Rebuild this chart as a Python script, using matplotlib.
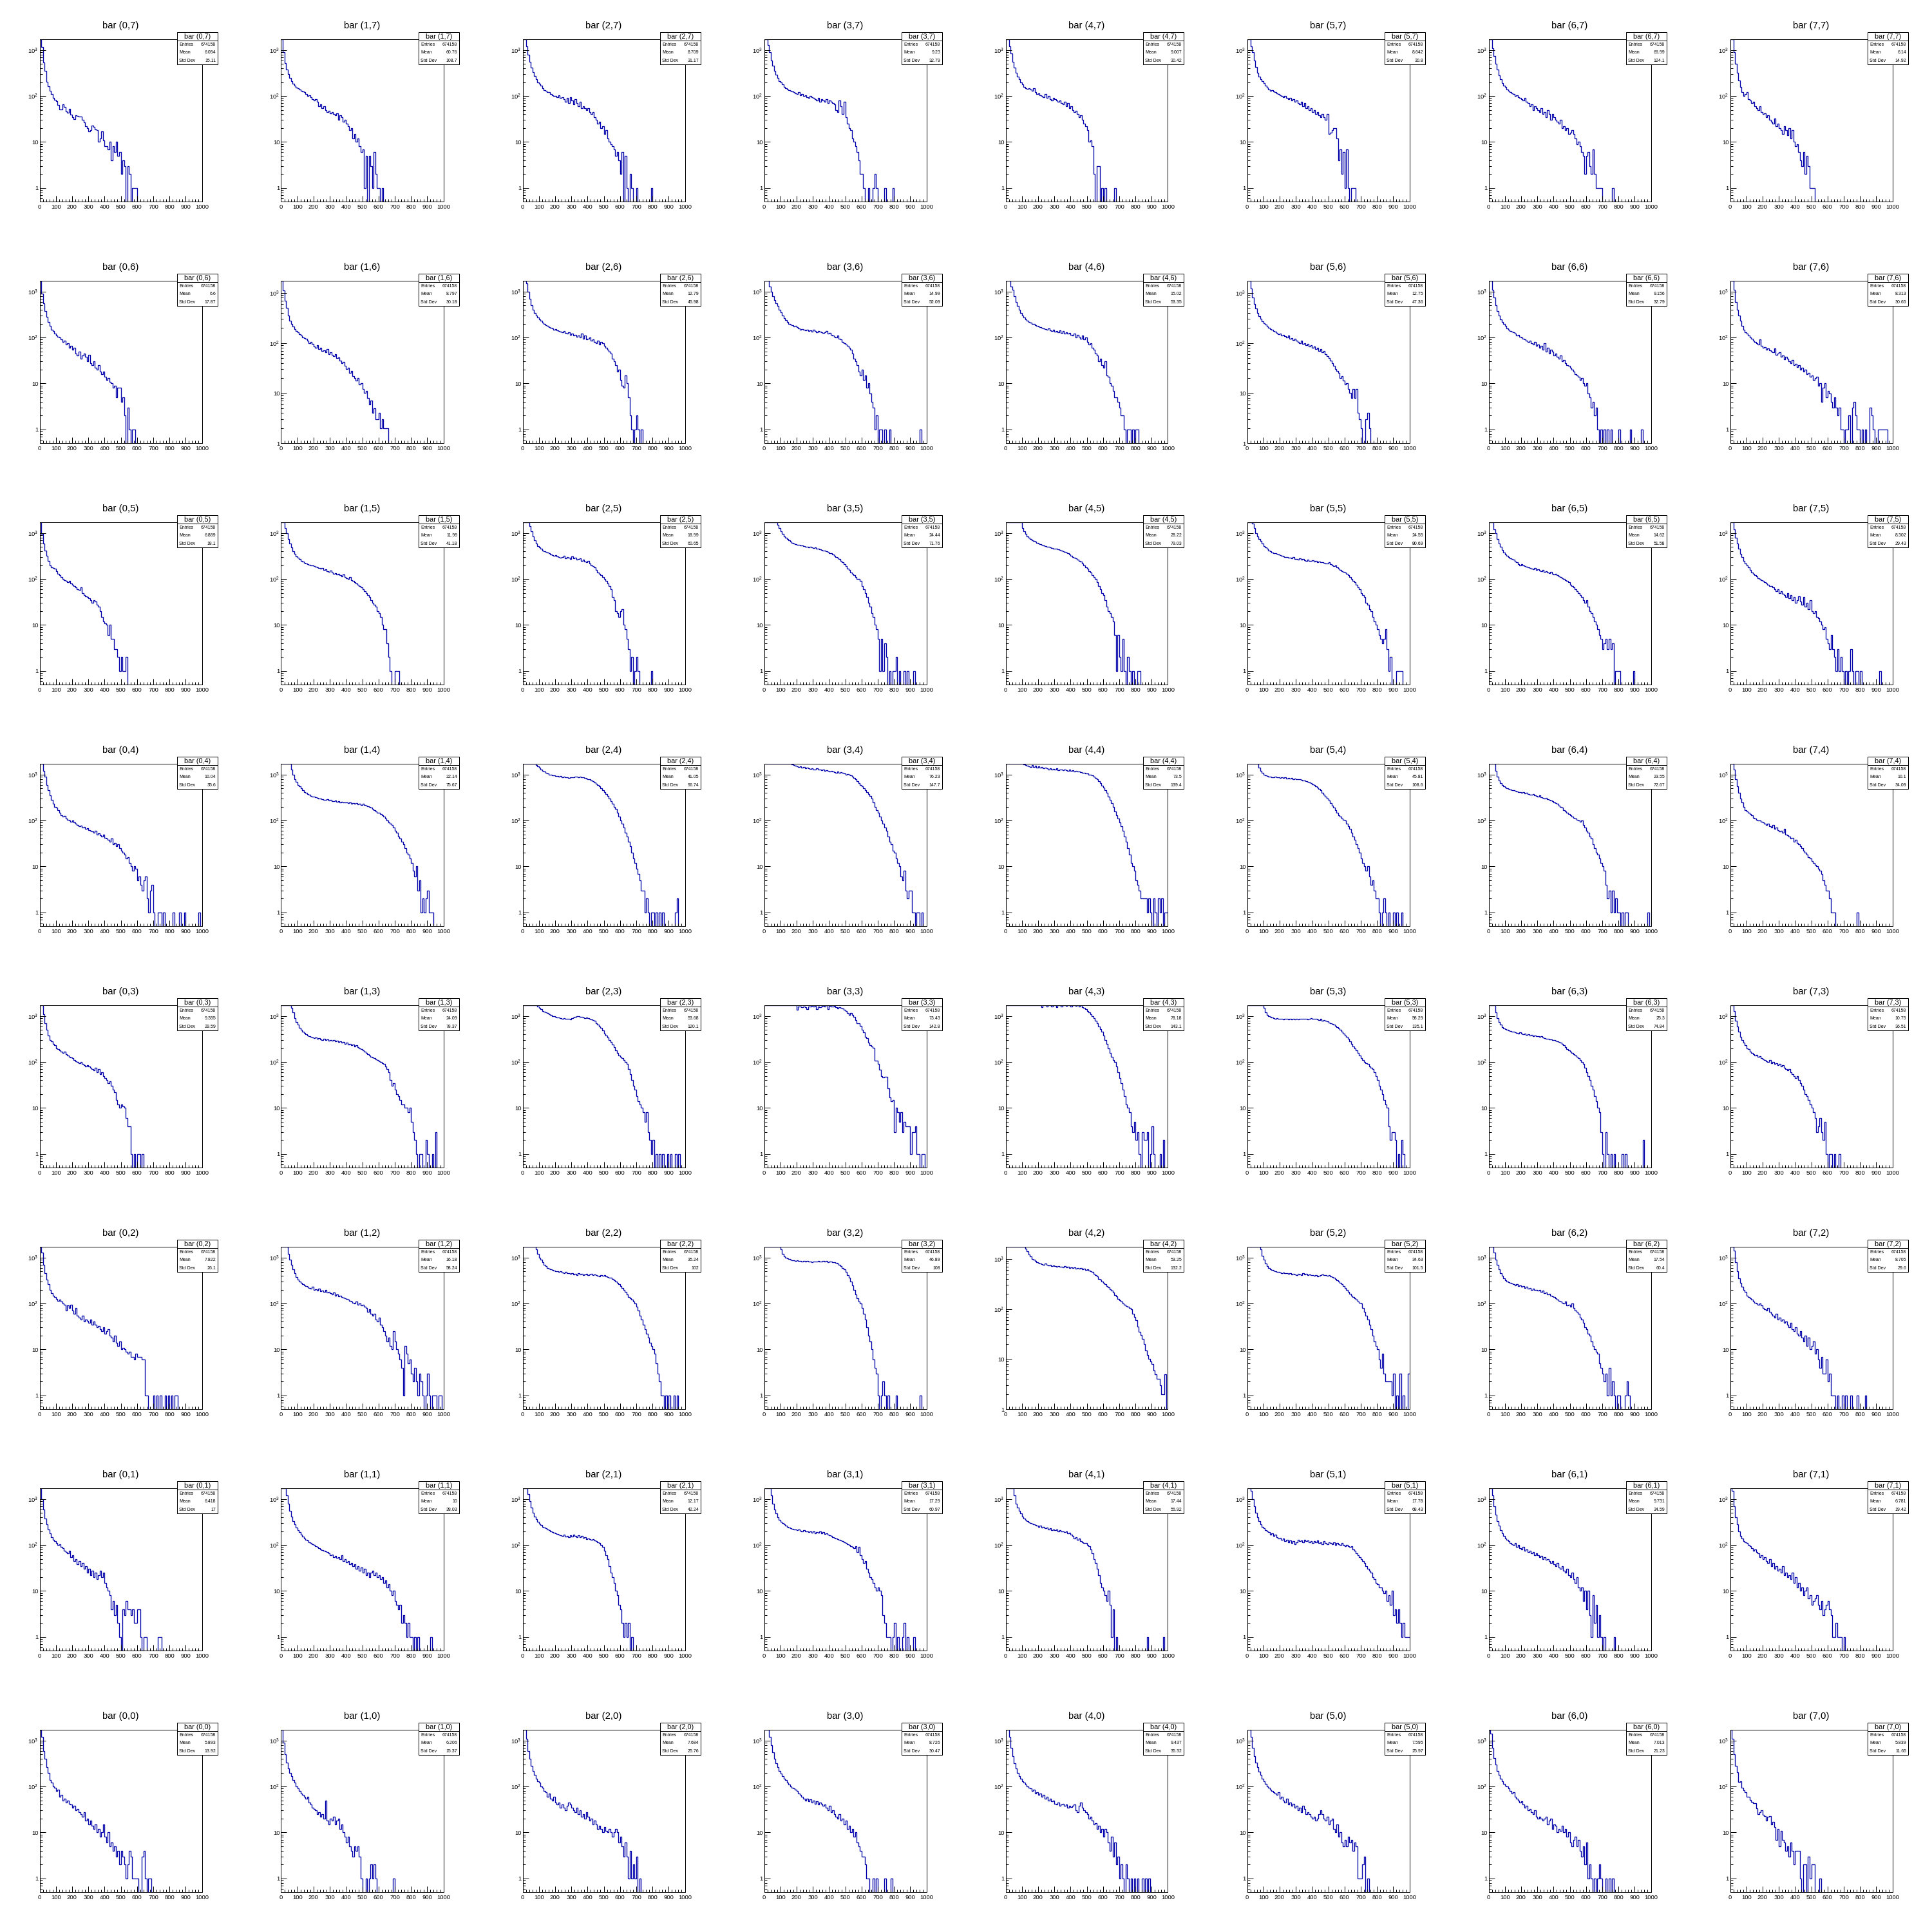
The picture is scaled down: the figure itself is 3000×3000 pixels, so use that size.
import numpy as np
import matplotlib
matplotlib.use("Agg")
import matplotlib.pyplot as plt
from matplotlib.patches import Rectangle
from matplotlib.lines import Line2D
from matplotlib.ticker import FixedLocator, FixedFormatter, NullFormatter

plt.rcParams['font.family'] = ['Liberation Sans', 'DejaVu Sans']
plt.rcParams['mathtext.fontset'] = 'custom'
plt.rcParams['mathtext.rm'] = 'Liberation Sans'
plt.rcParams['mathtext.it'] = 'Liberation Sans:italic'
plt.rcParams['mathtext.bf'] = 'Liberation Sans:bold'

# ---- bin contents (10-unit bins from 0 to 1000) ----
# row j = 7 (top)
h_0_7 = [9000, 1160, 530, 350, 205, 165, 130, 112, 92, 82, 78, 63, 51, 51, 67, 58, 46, 44, 52, 39, 35, 31, 38, 37, 36, 36, 30, 27, 22, 20, 17, 18, 23, 21, 19, 18, 10, 12, 17, 11, 8, 8, 7, 10, 4, 8, 6, 10, 5, 6, 2, 4, 3, 0, 3, 2, 0, 1, 1, 1]
h_1_7 = [5000, 900, 520, 380, 300, 250, 210, 185, 170, 155, 150, 140, 130, 125, 120, 110, 100, 105, 95, 85, 80, 85, 75, 60, 65, 55, 60, 50, 45, 48, 42, 45, 40, 38, 42, 30, 38, 35, 28, 30, 25, 22, 18, 20, 12, 15, 10, 12, 8, 6, 7, 1, 5, 0, 5, 3, 1, 6, 2, 1, 1, 0, 1]
h_2_7 = [5000, 2500, 1200, 800, 550, 420, 330, 270, 230, 200, 185, 170, 150, 135, 130, 120, 120, 110, 105, 100, 100, 95, 105, 90, 95, 85, 75, 90, 70, 95, 80, 65, 85, 70, 60, 75, 55, 60, 55, 50, 55, 45, 40, 45, 35, 30, 25, 28, 20, 22, 15, 18, 12, 10, 9, 8, 7, 5, 6, 4, 2, 6, 0, 5, 1, 0, 2, 1, 0, 0, 1, 0, 0, 0, 0, 0, 0, 0, 0, 1]
h_3_7 = [5000, 3000, 1300, 900, 600, 450, 350, 290, 250, 210, 200, 180, 160, 150, 140, 135, 130, 125, 120, 115, 110, 120, 105, 110, 100, 105, 95, 90, 100, 95, 90, 85, 80, 90, 75, 85, 80, 75, 85, 70, 80, 75, 70, 65, 50, 45, 80, 60, 40, 75, 35, 25, 20, 18, 12, 10, 8, 6, 4, 2, 2, 1, 0, 0, 1, 0, 0, 1, 2, 1, 0, 0, 0, 0, 1, 0, 0, 0, 0, 1]
h_4_7 = [5000, 2500, 1200, 850, 550, 420, 320, 260, 230, 200, 180, 160, 150, 145, 150, 140, 130, 150, 120, 110, 115, 105, 100, 95, 110, 90, 100, 85, 80, 90, 85, 80, 75, 80, 70, 65, 75, 60, 70, 55, 60, 50, 45, 48, 40, 35, 38, 30, 25, 22, 18, 10, 11, 8, 2, 0, 3, 3, 0, 1, 0, 1, 0, 0, 0, 0, 0, 1]
h_5_7 = [5000, 2800, 1200, 900, 600, 430, 320, 260, 230, 210, 190, 170, 155, 140, 130, 135, 125, 120, 115, 110, 105, 100, 95, 100, 90, 85, 90, 80, 85, 75, 80, 70, 65, 75, 60, 70, 55, 60, 50, 55, 45, 50, 40, 45, 38, 35, 40, 35, 30, 40, 15, 16, 18, 20, 20, 12, 4, 7, 2, 6, 1, 7, 1, 0, 1, 1, 1]
h_6_7 = [5000, 2500, 1100, 750, 500, 380, 280, 230, 190, 170, 160, 140, 130, 120, 115, 110, 100, 105, 95, 90, 85, 80, 90, 75, 70, 60, 65, 50, 60, 55, 50, 45, 55, 40, 45, 35, 50, 40, 30, 40, 35, 30, 28, 25, 30, 20, 22, 18, 20, 15, 16, 18, 15, 12, 9, 10, 8, 6, 5, 2, 5, 6, 3, 2, 7, 2, 1, 1, 1, 1, 0, 0, 0, 0, 0, 0, 1]
h_7_7 = [5000, 2000, 900, 500, 320, 220, 160, 120, 100, 110, 120, 85, 80, 70, 75, 60, 55, 50, 60, 45, 40, 42, 35, 38, 30, 28, 25, 32, 22, 25, 20, 18, 15, 22, 18, 14, 20, 12, 18, 10, 8, 9, 6, 4, 3, 6, 2, 5, 3, 1, 1, 1]

# row j = 6
h_0_6 = [5000, 900, 550, 380, 280, 220, 180, 150, 140, 120, 110, 105, 100, 90, 80, 85, 70, 75, 60, 65, 55, 60, 45, 40, 50, 35, 40, 45, 38, 30, 42, 28, 25, 30, 22, 20, 25, 18, 16, 18, 14, 12, 13, 11, 10, 8, 9, 5, 8, 8, 4, 5, 2, 0, 3, 1, 0, 1, 1]
h_1_6 = [5000, 1100, 700, 500, 350, 280, 240, 210, 190, 175, 165, 150, 140, 130, 125, 120, 110, 100, 105, 95, 85, 80, 90, 75, 80, 70, 72, 65, 75, 60, 65, 58, 55, 60, 50, 52, 45, 40, 42, 35, 30, 32, 25, 28, 22, 20, 18, 20, 15, 16, 12, 10, 11, 8, 6, 7, 4, 5, 3, 3, 4, 2, 3, 2, 2, 2]
h_2_6 = [5000, 2500, 1500, 1000, 700, 500, 400, 340, 300, 270, 250, 230, 210, 200, 185, 180, 170, 165, 160, 150, 155, 145, 140, 135, 130, 140, 125, 120, 130, 115, 120, 110, 115, 105, 110, 100, 120, 95, 110, 90, 95, 100, 85, 90, 80, 75, 85, 70, 80, 75, 65, 60, 55, 50, 45, 35, 30, 25, 18, 20, 12, 9, 8, 15, 10, 5, 2, 1, 0, 1, 2, 1, 0, 1]
h_3_6 = [5000, 3000, 2000, 1300, 1000, 800, 650, 560, 480, 400, 350, 300, 260, 240, 220, 200, 190, 185, 175, 180, 170, 160, 150, 155, 150, 145, 150, 140, 145, 135, 150, 140, 130, 140, 135, 130, 125, 130, 140, 120, 125, 115, 110, 105, 100, 110, 95, 90, 80, 75, 70, 65, 60, 55, 45, 35, 30, 25, 18, 15, 20, 12, 15, 8, 10, 6, 4, 3, 1, 2, 0, 1, 1, 0, 1, 0, 0, 1, 0, 0, 0, 0, 0, 0, 0, 0, 0, 0, 0, 0, 0, 0, 0, 0, 0, 0, 1]
h_4_6 = [5000, 3000, 1800, 1300, 1100, 800, 600, 480, 400, 340, 300, 270, 250, 230, 220, 210, 200, 195, 185, 180, 175, 170, 165, 160, 155, 150, 160, 145, 140, 150, 135, 140, 130, 145, 125, 140, 120, 130, 120, 125, 115, 110, 120, 100, 115, 105, 95, 110, 90, 100, 80, 70, 75, 60, 55, 45, 40, 30, 35, 25, 22, 30, 15, 14, 10, 9, 7, 5, 5, 4, 3, 2, 2, 1, 0, 1, 1, 0, 1, 0, 1, 1]
h_5_6 = [5000, 2800, 1200, 800, 600, 480, 400, 340, 300, 270, 250, 230, 210, 200, 190, 185, 175, 170, 160, 150, 155, 140, 145, 135, 130, 140, 120, 125, 115, 120, 110, 105, 100, 110, 95, 100, 90, 95, 85, 90, 80, 85, 75, 80, 70, 75, 65, 70, 60, 55, 50, 45, 40, 35, 30, 28, 25, 20, 22, 18, 15, 16, 12, 10, 8, 12, 8, 12, 4, 3, 2, 1, 1, 3, 4, 2, 1, 1, 1, 1]
h_6_6 = [5000, 2500, 1100, 750, 500, 380, 300, 250, 220, 200, 180, 160, 150, 140, 135, 130, 120, 110, 115, 105, 100, 95, 90, 85, 80, 85, 75, 70, 80, 65, 70, 60, 65, 55, 75, 50, 60, 45, 55, 50, 40, 45, 38, 35, 40, 30, 32, 28, 25, 24, 22, 20, 18, 16, 15, 14, 12, 13, 10, 9, 10, 6, 5, 3, 4, 2, 3, 1, 0, 1, 0, 1, 0, 1, 0, 1, 0, 0, 0, 0, 1, 0, 0, 0, 0, 0, 0, 1, 0, 0, 0, 0, 0, 0, 1]
h_7_6 = [5000, 2800, 1100, 600, 400, 300, 230, 180, 150, 130, 120, 110, 100, 95, 85, 80, 75, 70, 90, 65, 60, 62, 55, 58, 52, 50, 48, 58, 42, 45, 48, 38, 40, 34, 38, 35, 30, 28, 32, 25, 27, 23, 25, 20, 22, 18, 20, 16, 17, 14, 15, 12, 13, 14, 9, 10, 4, 8, 10, 5, 7, 6, 4, 3, 5, 3, 2, 3, 1, 1, 0, 1, 1, 2, 0, 3, 4, 2, 1, 1, 0, 1, 0, 1, 0, 0, 3, 2, 1, 0, 0, 1, 1, 1, 1, 1, 1]

# row j = 5
h_0_5 = [5000, 950, 600, 420, 320, 250, 200, 180, 175, 170, 150, 130, 120, 110, 100, 95, 90, 85, 90, 80, 75, 70, 65, 60, 58, 65, 50, 45, 42, 40, 38, 35, 30, 35, 32, 28, 25, 20, 15, 12, 11, 10, 6, 10, 5, 5, 3, 3, 2, 1, 2, 1, 1, 2]
h_1_5 = [5000, 2500, 1300, 1000, 750, 600, 480, 400, 350, 310, 290, 270, 250, 240, 225, 215, 210, 205, 200, 195, 190, 185, 180, 175, 170, 175, 160, 165, 150, 145, 155, 140, 130, 135, 125, 130, 120, 115, 125, 110, 105, 100, 110, 95, 90, 85, 80, 75, 70, 65, 60, 55, 50, 45, 40, 35, 30, 28, 25, 20, 18, 15, 10, 8, 8, 4, 2, 1, 0, 0, 1, 1, 1]
h_2_5 = [5000, 4000, 3000, 2200, 1400, 1100, 850, 700, 600, 520, 480, 450, 420, 400, 390, 380, 360, 340, 330, 320, 330, 310, 300, 290, 300, 320, 280, 300, 290, 270, 310, 280, 290, 260, 270, 280, 250, 260, 240, 230, 250, 220, 200, 190, 180, 160, 140, 130, 120, 110, 100, 90, 80, 70, 60, 40, 35, 20, 18, 15, 20, 22, 10, 8, 5, 3, 1, 2, 0, 1, 2, 1, 0, 0, 0, 0, 0, 0, 0, 1]
h_3_5 = [5000, 5000, 5000, 5000, 5000, 5000, 5000, 5000, 1500, 1300, 1100, 950, 850, 800, 750, 700, 650, 620, 600, 580, 560, 550, 540, 530, 520, 510, 500, 490, 500, 480, 470, 480, 460, 450, 440, 430, 420, 410, 400, 390, 370, 360, 340, 320, 300, 290, 270, 250, 230, 210, 190, 170, 160, 140, 130, 120, 110, 100, 100, 90, 70, 60, 50, 40, 30, 25, 18, 15, 10, 8, 5, 1, 5, 1, 4, 2, 0, 1, 0, 1, 1, 2, 0, 1, 0, 0, 1, 0, 1, 0, 0, 0, 1]
h_4_5 = [5000, 5000, 5000, 5000, 5000, 5000, 5000, 4000, 3000, 2000, 1300, 1100, 950, 850, 800, 750, 700, 680, 650, 620, 600, 570, 550, 540, 520, 500, 500, 490, 470, 460, 450, 460, 440, 430, 420, 400, 390, 380, 360, 340, 320, 300, 290, 280, 260, 250, 240, 220, 200, 180, 170, 150, 140, 120, 110, 100, 85, 70, 60, 50, 45, 35, 25, 20, 18, 15, 12, 6, 1, 6, 2, 1, 5, 1, 0, 2, 1, 0, 1, 0, 0, 1, 1]
h_5_5 = [5000, 3500, 2000, 1600, 1300, 1000, 850, 750, 680, 600, 520, 480, 450, 420, 400, 380, 370, 360, 350, 340, 330, 320, 310, 300, 300, 295, 290, 280, 300, 275, 270, 265, 280, 260, 270, 255, 250, 260, 245, 250, 255, 240, 250, 235, 240, 230, 235, 225, 220, 215, 230, 210, 200, 190, 200, 180, 170, 160, 150, 145, 140, 130, 120, 110, 100, 90, 85, 75, 65, 60, 50, 45, 40, 30, 28, 22, 20, 15, 12, 10, 8, 6, 5, 4, 5, 8, 3, 1, 2, 0, 0, 0, 1, 1, 1, 1]
h_6_5 = [5000, 3000, 1800, 1200, 1000, 750, 600, 500, 430, 380, 340, 320, 300, 280, 270, 260, 240, 230, 210, 200, 210, 195, 190, 185, 180, 175, 170, 165, 175, 160, 165, 155, 150, 160, 145, 150, 140, 135, 145, 130, 125, 130, 120, 115, 110, 105, 100, 95, 90, 85, 75, 70, 65, 60, 55, 50, 45, 40, 35, 30, 35, 25, 20, 18, 15, 12, 10, 8, 6, 5, 3, 4, 5, 3, 5, 3, 4, 0, 1, 1, 1, 0, 0, 0, 0, 0, 0, 0, 0, 1]
h_7_5 = [5000, 2500, 1200, 800, 600, 450, 350, 300, 250, 220, 200, 180, 160, 140, 130, 120, 115, 105, 100, 95, 90, 85, 80, 75, 70, 70, 65, 60, 55, 60, 50, 55, 48, 45, 40, 50, 38, 45, 35, 40, 30, 35, 42, 32, 28, 40, 25, 30, 22, 35, 20, 18, 20, 15, 14, 12, 10, 8, 9, 5, 4, 3, 6, 3, 2, 1, 3, 1, 2, 1, 0, 1, 0, 1, 3, 1, 0, 1, 1, 0, 1, 0, 0, 0, 0, 0, 0, 0, 0, 0, 0, 0, 1]

# row j = 4
h_0_4 = [5000, 2500, 1200, 900, 600, 450, 350, 280, 230, 200, 190, 170, 150, 130, 120, 125, 110, 105, 100, 95, 100, 90, 85, 80, 75, 78, 70, 72, 65, 68, 62, 60, 58, 55, 60, 50, 52, 48, 45, 50, 42, 40, 38, 35, 40, 30, 32, 28, 30, 25, 22, 20, 18, 15, 16, 12, 10, 8, 10, 9, 5, 6, 4, 3, 5, 6, 2, 1, 3, 4, 1, 0, 0, 1, 1, 0, 1, 0, 0, 0, 0, 0, 1, 0, 0, 0, 1, 0, 0, 1, 0, 0, 0, 0, 0, 0, 0, 0, 1]
h_1_4 = [5000, 5000, 4000, 3000, 2500, 2000, 1300, 1000, 800, 700, 600, 550, 500, 450, 420, 400, 380, 360, 340, 330, 330, 320, 310, 300, 300, 290, 285, 280, 290, 270, 280, 265, 260, 270, 255, 260, 250, 255, 245, 250, 250, 240, 245, 235, 240, 230, 240, 225, 230, 220, 230, 215, 210, 205, 200, 190, 180, 170, 160, 150, 150, 140, 130, 120, 110, 100, 90, 85, 80, 70, 60, 55, 45, 40, 35, 30, 25, 20, 18, 15, 12, 8, 6, 10, 3, 5, 1, 2, 1, 2, 3, 1, 1, 1]
h_2_4 = [5000, 5000, 5000, 5000, 5000, 5000, 5000, 5000, 1600, 1500, 1400, 1300, 1200, 1150, 1100, 1050, 1000, 980, 960, 950, 940, 920, 900, 920, 880, 900, 880, 860, 850, 870, 860, 880, 900, 890, 870, 900, 880, 860, 840, 820, 800, 780, 750, 720, 680, 640, 600, 560, 500, 460, 420, 380, 340, 300, 260, 230, 200, 180, 150, 120, 100, 85, 70, 55, 45, 35, 28, 20, 15, 12, 9, 7, 5, 3, 3, 1, 2, 1, 0, 1, 1, 0, 1, 0, 1, 0, 1, 0, 0, 0, 0, 0, 0, 0, 1, 2]
h_3_4 = [5000, 5000, 5000, 5000, 5000, 5000, 5000, 5000, 5000, 5000, 5000, 5000, 5000, 5000, 5000, 5000, 1700, 1650, 1600, 1550, 1500, 1450, 1500, 1400, 1450, 1380, 1400, 1350, 1320, 1380, 1300, 1300, 1350, 1280, 1300, 1250, 1280, 1220, 1250, 1200, 1180, 1200, 1150, 1120, 1100, 1150, 1100, 1120, 1080, 1050, 1000, 1020, 980, 950, 900, 850, 780, 720, 650, 600, 560, 500, 460, 420, 380, 340, 300, 250, 200, 170, 150, 120, 100, 85, 70, 60, 45, 35, 30, 22, 20, 15, 12, 10, 6, 5, 8, 3, 2, 3, 3, 1, 1, 0, 1, 1, 0, 1]
h_4_4 = [5000, 5000, 5000, 5000, 5000, 5000, 5000, 5000, 5000, 5000, 1700, 1650, 1600, 1550, 1500, 1450, 1600, 1450, 1550, 1400, 1500, 1400, 1450, 1350, 1400, 1350, 1300, 1380, 1300, 1320, 1280, 1350, 1250, 1300, 1280, 1250, 1300, 1250, 1200, 1280, 1200, 1250, 1180, 1200, 1150, 1150, 1120, 1100, 1080, 1050, 1050, 1000, 980, 950, 900, 850, 800, 720, 650, 580, 520, 450, 400, 330, 280, 240, 200, 160, 130, 110, 90, 75, 60, 45, 35, 25, 18, 12, 10, 8, 5, 4, 3, 2, 2, 2, 2, 1, 2, 1, 0, 2, 1, 0, 2, 1, 2, 0, 1, 1]
h_5_4 = [5000, 5000, 5000, 5000, 5000, 5000, 1700, 1400, 1200, 1100, 1000, 950, 920, 900, 900, 880, 870, 890, 860, 880, 850, 870, 840, 860, 830, 850, 820, 840, 800, 820, 800, 790, 780, 760, 750, 740, 720, 700, 680, 650, 620, 600, 560, 520, 480, 450, 400, 370, 330, 300, 270, 240, 210, 190, 170, 150, 130, 120, 110, 105, 100, 85, 75, 65, 55, 45, 38, 30, 25, 20, 15, 12, 10, 8, 10, 6, 4, 5, 3, 2, 2, 1, 0, 1, 2, 1, 0, 1, 0, 0, 1, 0, 1, 0, 0, 1]
h_6_4 = [5000, 5000, 5000, 5000, 1200, 900, 750, 650, 600, 550, 520, 500, 480, 470, 460, 450, 440, 430, 420, 410, 400, 420, 390, 400, 380, 370, 360, 380, 350, 340, 330, 350, 320, 310, 300, 310, 290, 280, 270, 260, 250, 240, 230, 210, 200, 190, 170, 160, 150, 140, 130, 120, 115, 110, 105, 100, 95, 100, 80, 70, 60, 55, 45, 40, 30, 25, 20, 18, 15, 12, 10, 8, 4, 2, 3, 1, 3, 1, 2, 1, 1, 0, 1, 0, 1, 1, 0, 0, 0, 0, 0, 0, 0, 0, 0, 0, 0, 0, 1]
h_7_4 = [5000, 5000, 1300, 800, 550, 400, 300, 250, 200, 170, 160, 150, 140, 130, 115, 110, 105, 100, 100, 95, 90, 85, 80, 85, 75, 70, 80, 65, 70, 62, 58, 60, 55, 65, 50, 48, 45, 40, 42, 35, 38, 32, 30, 28, 25, 22, 20, 18, 16, 15, 13, 12, 11, 10, 9, 8, 7, 5, 4, 3, 3, 2, 1, 1, 1, 0, 0, 0, 0, 0, 0, 0, 0, 0, 0, 0, 0, 0, 1]

# row j = 3
h_0_3 = [5000, 5000, 1100, 700, 500, 380, 300, 280, 250, 230, 200, 190, 180, 170, 160, 170, 150, 140, 130, 125, 120, 110, 105, 100, 95, 100, 90, 85, 80, 85, 80, 75, 70, 65, 75, 60, 70, 55, 60, 50, 45, 40, 35, 38, 30, 25, 22, 15, 12, 10, 12, 11, 10, 6, 4, 4, 1, 0, 1, 0, 1, 1, 0, 1]
h_1_3 = [5000, 5000, 5000, 5000, 5000, 5000, 1500, 1200, 900, 750, 650, 550, 500, 460, 430, 400, 380, 370, 350, 340, 330, 340, 320, 330, 310, 300, 320, 300, 310, 290, 300, 290, 300, 280, 290, 270, 280, 260, 270, 250, 260, 240, 250, 230, 240, 220, 230, 210, 200, 190, 180, 170, 160, 150, 140, 130, 125, 120, 115, 110, 105, 100, 95, 90, 80, 70, 60, 40, 30, 35, 25, 20, 18, 15, 12, 12, 10, 10, 8, 10, 5, 3, 2, 1, 0, 1, 1, 0, 0, 2, 1, 0, 0, 1, 0, 3]
h_2_3 = [5000, 5000, 5000, 5000, 5000, 5000, 5000, 5000, 1700, 1600, 1500, 1400, 1300, 1250, 1200, 1150, 1100, 1050, 1000, 980, 960, 940, 920, 900, 880, 900, 870, 860, 880, 850, 900, 920, 950, 1000, 980, 950, 960, 940, 900, 920, 900, 880, 850, 820, 780, 700, 650, 600, 550, 480, 420, 380, 340, 300, 270, 240, 210, 180, 160, 140, 130, 120, 110, 100, 90, 70, 55, 40, 30, 25, 18, 14, 12, 10, 8, 5, 8, 3, 2, 1, 2, 0, 1, 0, 1, 0, 1, 0, 0, 1, 0, 1, 0, 0, 1, 0, 1]
h_3_3 = [5000, 5000, 5000, 5000, 5000, 5000, 5000, 5000, 5000, 5000, 5000, 5000, 5000, 5000, 5000, 5000, 5000, 5000, 5000, 5000, 1380, 1600, 1600, 1550, 1600, 1580, 1400, 1600, 1620, 1680, 1600, 1650, 1420, 1620, 1580, 1600, 1650, 1630, 1700, 1400, 1680, 1600, 1620, 1650, 1550, 1450, 1580, 1500, 1480, 1350, 1300, 1150, 1070, 1150, 1050, 970, 830, 690, 700, 610, 510, 440, 350, 330, 260, 230, 215, 205, 107, 107, 92, 68, 49, 46, 48, 48, 27, 17, 14, 15, 3, 10, 8, 5, 8, 3, 5, 4, 4, 4, 1, 3, 3, 4, 1, 1, 0, 1, 1]
h_4_3 = [5000, 5000, 5000, 5000, 5000, 5000, 5000, 5000, 5000, 5000, 5000, 5000, 5000, 5000, 5000, 5000, 5000, 5000, 5000, 5000, 5000, 5000, 1550, 5000, 5000, 1600, 5000, 5000, 1600, 5000, 5000, 1550, 5000, 5000, 1600, 5000, 5000, 1650, 5000, 5000, 1600, 5000, 5000, 1650, 5000, 1600, 5000, 1550, 1500, 1400, 1300, 1200, 1100, 1000, 900, 780, 700, 600, 520, 450, 380, 300, 250, 200, 160, 130, 110, 100, 80, 60, 45, 35, 25, 18, 12, 10, 8, 4, 3, 5, 2, 3, 1, 0, 3, 2, 2, 3, 0, 1, 4, 1, 0, 0, 0, 1, 0, 2]
h_5_3 = [5000, 5000, 5000, 5000, 5000, 5000, 5000, 5000, 5000, 5000, 1500, 1200, 1050, 1000, 950, 920, 900, 880, 900, 870, 860, 880, 850, 870, 860, 840, 860, 850, 870, 840, 860, 850, 880, 860, 870, 880, 860, 850, 880, 900, 870, 860, 880, 850, 830, 860, 800, 820, 780, 760, 720, 700, 680, 650, 620, 580, 540, 500, 460, 420, 380, 350, 320, 280, 250, 220, 200, 180, 160, 140, 120, 110, 100, 95, 90, 80, 75, 70, 60, 50, 40, 30, 25, 20, 15, 12, 10, 4, 2, 3, 3, 2, 0, 1, 0, 2, 1, 0]
h_6_3 = [5000, 5000, 5000, 5000, 1200, 900, 750, 650, 580, 540, 520, 500, 480, 470, 460, 450, 440, 430, 420, 440, 410, 400, 420, 390, 400, 380, 390, 370, 380, 360, 370, 350, 360, 340, 330, 320, 320, 310, 310, 305, 300, 290, 280, 270, 260, 250, 230, 210, 190, 180, 170, 160, 150, 140, 130, 120, 110, 100, 90, 75, 60, 50, 40, 30, 25, 18, 14, 10, 8, 3, 1, 0, 3, 1, 0, 1, 0, 1, 0, 0, 0, 0, 1, 0, 1, 0, 0, 0, 0, 0, 0, 0, 0, 0, 0, 2]
h_7_3 = [5000, 5000, 1300, 800, 600, 450, 350, 300, 260, 230, 200, 190, 170, 160, 150, 140, 145, 130, 135, 120, 115, 110, 105, 100, 110, 95, 100, 90, 95, 85, 90, 80, 85, 75, 70, 65, 70, 60, 55, 50, 45, 50, 40, 35, 30, 25, 20, 18, 15, 12, 10, 8, 6, 3, 4, 6, 3, 2, 5, 1, 0, 1, 1, 0, 1, 0, 0, 1]

# row j = 2
h_0_2 = [5000, 1300, 700, 450, 330, 260, 200, 170, 150, 140, 125, 115, 120, 110, 100, 95, 70, 90, 80, 95, 70, 60, 80, 55, 50, 45, 55, 40, 45, 42, 38, 45, 35, 40, 35, 30, 32, 28, 25, 30, 22, 25, 28, 20, 18, 15, 20, 14, 12, 15, 10, 11, 10, 9, 8, 9, 7, 7, 6, 8, 7, 7, 7, 6, 6, 1, 1, 0, 0, 0, 1, 0, 1, 0, 1, 0, 0, 1, 0, 1, 0, 1, 0, 1, 1]
h_1_2 = [5000, 5000, 5000, 5000, 1200, 900, 700, 550, 450, 380, 330, 300, 280, 260, 250, 240, 230, 220, 210, 230, 200, 205, 190, 210, 185, 190, 180, 200, 175, 180, 170, 160, 175, 150, 160, 145, 150, 140, 135, 130, 125, 120, 115, 110, 105, 100, 110, 95, 100, 90, 95, 85, 80, 65, 75, 60, 55, 60, 45, 40, 50, 35, 30, 25, 20, 15, 18, 12, 10, 25, 15, 10, 8, 6, 4, 1, 12, 8, 5, 6, 3, 2, 4, 2, 1, 3, 2, 1, 0, 1, 3, 1, 0, 1, 1, 1, 0, 1, 1]
h_2_2 = [5000, 5000, 5000, 5000, 5000, 5000, 5000, 5000, 1500, 1200, 1000, 900, 800, 700, 650, 600, 580, 560, 540, 520, 500, 510, 480, 500, 470, 460, 480, 450, 460, 440, 450, 430, 440, 420, 450, 430, 440, 420, 430, 440, 420, 430, 440, 420, 430, 410, 400, 395, 420, 400, 410, 390, 380, 370, 360, 340, 320, 300, 280, 260, 240, 220, 200, 180, 160, 140, 130, 120, 110, 100, 85, 70, 55, 45, 35, 28, 22, 18, 14, 12, 10, 8, 5, 3, 2, 1, 1, 0, 1, 0, 1, 0, 0, 1, 0, 1]
h_3_2 = [5000, 5000, 5000, 5000, 5000, 5000, 5000, 5000, 5000, 5000, 1500, 1200, 1050, 1000, 950, 920, 900, 880, 870, 850, 860, 840, 850, 830, 840, 820, 850, 810, 830, 800, 820, 830, 810, 840, 820, 830, 850, 820, 840, 800, 820, 810, 800, 780, 760, 740, 700, 650, 600, 550, 480, 420, 360, 300, 250, 200, 160, 130, 110, 100, 80, 60, 45, 30, 20, 15, 10, 6, 4, 3, 1, 0, 1, 2, 1, 0, 1, 0, 0, 0, 0, 1, 0, 0, 0, 0, 0, 0, 0, 0, 0, 0, 0, 0, 0, 0, 1]
h_4_2 = [5000, 5000, 5000, 5000, 5000, 5000, 5000, 5000, 5000, 5000, 5000, 5000, 1600, 1400, 1200, 1100, 1000, 950, 900, 850, 820, 800, 780, 760, 800, 750, 740, 760, 720, 730, 710, 700, 720, 690, 700, 680, 710, 670, 690, 660, 680, 650, 670, 640, 660, 630, 650, 620, 640, 600, 620, 580, 560, 540, 500, 470, 440, 400, 380, 350, 330, 310, 290, 270, 250, 230, 210, 190, 180, 160, 150, 140, 130, 120, 115, 110, 105, 100, 80, 70, 60, 45, 35, 30, 25, 20, 15, 12, 10, 9, 8, 6, 5, 4, 4, 3, 2, 2, 5, 1]
h_5_2 = [5000, 5000, 5000, 5000, 5000, 5000, 5000, 5000, 1500, 1100, 900, 750, 650, 600, 560, 540, 520, 500, 490, 480, 470, 460, 470, 450, 460, 440, 450, 430, 440, 430, 420, 440, 430, 420, 450, 430, 440, 420, 430, 410, 420, 400, 420, 390, 400, 420, 430, 410, 420, 400, 410, 390, 380, 360, 340, 320, 300, 280, 260, 240, 220, 200, 180, 165, 150, 140, 130, 120, 110, 105, 100, 80, 65, 55, 45, 35, 28, 20, 15, 12, 10, 6, 4, 8, 3, 2, 2, 2, 2, 1, 3, 0, 1, 0, 3, 0, 1, 0, 0, 3]
h_6_2 = [5000, 5000, 5000, 1300, 900, 700, 550, 450, 400, 350, 320, 300, 290, 280, 270, 260, 250, 260, 240, 250, 230, 240, 220, 230, 210, 220, 200, 210, 195, 200, 190, 200, 180, 190, 170, 175, 160, 165, 150, 145, 140, 130, 120, 115, 110, 105, 100, 110, 90, 95, 85, 100, 80, 70, 65, 60, 50, 45, 38, 30, 28, 22, 20, 15, 12, 10, 9, 8, 5, 4, 3, 2, 3, 1, 4, 1, 2, 1, 0, 1, 1, 0, 0, 0, 1, 2, 1]
h_7_2 = [5000, 5000, 1400, 800, 500, 350, 280, 230, 200, 180, 150, 140, 130, 120, 110, 105, 100, 95, 100, 90, 80, 75, 70, 80, 65, 60, 55, 50, 60, 45, 50, 42, 45, 38, 40, 35, 30, 38, 28, 25, 30, 22, 20, 25, 18, 15, 20, 12, 18, 10, 12, 15, 8, 10, 6, 4, 7, 3, 3, 6, 2, 3, 1, 1, 1, 0, 1, 0, 0, 1, 0, 1, 0, 0, 1, 0, 0, 0, 1, 0, 0, 0, 0, 1]

# row j = 1
h_0_1 = [5000, 1000, 600, 380, 280, 220, 180, 150, 130, 120, 110, 100, 105, 90, 85, 75, 70, 65, 75, 55, 60, 45, 50, 38, 45, 35, 40, 30, 35, 25, 30, 22, 28, 20, 25, 18, 22, 28, 20, 25, 15, 12, 10, 8, 4, 6, 3, 5, 2, 1, 0, 4, 3, 6, 4, 4, 3, 4, 2, 2, 4, 4, 1, 0, 1, 1, 0, 0, 0, 0, 0, 0, 0, 1, 1]
h_1_1 = [5000, 5000, 5000, 1200, 800, 550, 420, 330, 280, 240, 210, 190, 170, 155, 140, 130, 125, 115, 110, 105, 100, 95, 90, 85, 80, 78, 75, 72, 70, 65, 60, 62, 55, 58, 52, 55, 50, 60, 45, 50, 42, 45, 38, 40, 35, 38, 30, 35, 28, 32, 25, 30, 22, 25, 20, 25, 28, 22, 25, 20, 22, 18, 20, 15, 17, 12, 14, 10, 8, 10, 6, 5, 4, 5, 2, 3, 2, 1, 2, 1, 1, 0, 1, 0, 1, 0, 0, 0, 0, 0, 0, 0, 1]
h_2_1 = [5000, 5000, 5000, 1300, 900, 650, 500, 420, 360, 320, 290, 270, 250, 240, 230, 220, 210, 200, 190, 185, 180, 175, 170, 165, 160, 170, 155, 160, 150, 165, 155, 170, 160, 150, 165, 150, 160, 145, 150, 135, 140, 135, 130, 135, 125, 120, 115, 110, 100, 90, 75, 60, 50, 35, 25, 20, 15, 10, 8, 5, 4, 2, 1, 2, 1, 2, 0, 1]
h_3_1 = [5000, 5000, 5000, 5000, 1200, 800, 600, 480, 400, 350, 320, 300, 280, 260, 250, 240, 230, 225, 220, 215, 210, 220, 205, 200, 210, 195, 200, 190, 200, 185, 195, 180, 190, 185, 200, 180, 190, 175, 180, 170, 165, 160, 150, 145, 140, 135, 130, 125, 120, 115, 110, 105, 100, 95, 90, 85, 95, 70, 90, 60, 50, 40, 45, 30, 25, 20, 18, 15, 12, 10, 12, 10, 8, 3, 2, 1, 1, 1, 0, 1, 2, 0, 1, 0, 0, 1, 2, 0, 1, 0, 0, 0, 1]
h_4_1 = [5000, 5000, 5000, 5000, 5000, 1200, 800, 650, 550, 480, 420, 380, 350, 330, 310, 300, 290, 280, 270, 260, 250, 260, 240, 250, 230, 240, 220, 230, 210, 220, 210, 220, 200, 210, 195, 200, 190, 195, 180, 185, 170, 160, 140, 150, 130, 140, 120, 115, 112, 110, 100, 95, 80, 65, 50, 40, 30, 22, 15, 12, 10, 8, 6, 10, 5, 1, 4, 0, 1, 0, 0, 0, 0, 0, 0, 0, 0, 0, 0, 0, 0, 0, 0, 0, 0, 0, 0, 1, 0, 0, 0, 0, 0, 0, 0, 0, 0, 1]
h_5_1 = [5000, 5000, 1500, 1000, 700, 500, 400, 330, 280, 250, 230, 210, 200, 190, 170, 180, 160, 170, 150, 140, 145, 130, 140, 120, 130, 115, 125, 110, 120, 105, 115, 130, 120, 125, 115, 130, 120, 125, 115, 120, 110, 120, 115, 125, 110, 115, 105, 120, 110, 105, 115, 110, 105, 115, 100, 110, 105, 100, 110, 100, 95, 100, 95, 90, 95, 80, 75, 65, 60, 55, 50, 45, 40, 35, 30, 28, 25, 20, 18, 15, 14, 12, 12, 10, 9, 10, 6, 8, 5, 10, 3, 4, 2, 4, 2, 1, 2, 1, 1, 1]
h_6_1 = [5000, 5000, 1200, 700, 450, 330, 260, 210, 180, 160, 140, 130, 120, 110, 105, 100, 110, 90, 100, 85, 80, 90, 75, 80, 70, 75, 65, 70, 60, 65, 60, 55, 58, 50, 55, 48, 50, 45, 40, 45, 38, 35, 40, 32, 30, 35, 28, 25, 30, 22, 20, 25, 18, 15, 20, 12, 10, 12, 6, 10, 4, 10, 3, 1, 8, 2, 5, 1, 3, 1, 0, 1, 0, 0, 0, 0, 0, 1]
h_7_1 = [5000, 1500, 700, 400, 280, 200, 160, 140, 120, 115, 110, 100, 95, 85, 75, 80, 70, 65, 55, 60, 50, 55, 45, 40, 50, 35, 40, 30, 35, 28, 30, 25, 35, 22, 25, 20, 22, 18, 25, 15, 20, 12, 15, 10, 12, 8, 10, 12, 7, 8, 5, 6, 7, 8, 5, 4, 6, 3, 4, 5, 6, 4, 3, 1, 1, 2, 1, 1, 1, 0, 1]

# row j = 0 (bottom)
h_0_0 = [5000, 1200, 600, 400, 260, 200, 140, 120, 100, 95, 80, 85, 60, 65, 50, 55, 45, 50, 42, 40, 35, 38, 30, 32, 28, 25, 22, 28, 18, 20, 15, 18, 14, 12, 15, 10, 12, 8, 10, 15, 8, 6, 10, 5, 6, 4, 5, 3, 4, 2, 4, 3, 2, 1, 2, 4, 3, 1, 1, 1, 1, 0, 0, 3, 4, 1, 0, 1, 1]
h_1_0 = [5000, 900, 500, 330, 250, 200, 170, 140, 120, 100, 90, 80, 70, 65, 60, 55, 60, 45, 40, 35, 32, 30, 25, 28, 22, 25, 20, 50, 18, 15, 20, 18, 22, 15, 18, 20, 12, 15, 10, 8, 6, 8, 5, 4, 3, 5, 4, 5, 3, 1, 0, 0, 1, 0, 1, 2, 1, 2, 1, 0, 0, 0, 0, 0, 0, 0, 0, 0, 0, 1]
h_2_0 = [5000, 5000, 1100, 600, 400, 280, 220, 180, 150, 130, 120, 100, 95, 80, 75, 60, 70, 55, 50, 60, 45, 40, 45, 35, 40, 35, 30, 38, 45, 40, 35, 30, 28, 35, 25, 30, 22, 25, 20, 28, 22, 18, 20, 15, 18, 15, 12, 14, 12, 10, 13, 11, 10, 12, 10, 8, 10, 12, 10, 6, 8, 5, 3, 6, 3, 1, 4, 1, 2, 1, 3, 0, 1]
h_3_0 = [5000, 5000, 5000, 1200, 800, 550, 400, 320, 260, 220, 190, 170, 150, 140, 120, 110, 100, 95, 90, 85, 80, 70, 65, 60, 55, 50, 55, 48, 52, 45, 50, 42, 48, 40, 45, 42, 38, 40, 35, 30, 38, 28, 30, 25, 22, 20, 25, 18, 20, 15, 18, 12, 14, 10, 12, 8, 10, 6, 5, 4, 3, 3, 2, 1, 1, 0, 0, 1, 0, 1, 0, 0, 0, 0, 1, 0, 0, 0, 1]
h_4_0 = [5000, 5000, 1200, 700, 450, 320, 250, 200, 170, 150, 130, 120, 110, 100, 95, 90, 80, 85, 70, 75, 65, 70, 60, 65, 55, 60, 50, 55, 48, 50, 42, 40, 45, 38, 40, 42, 38, 40, 35, 38, 36, 38, 40, 30, 28, 38, 45, 35, 30, 28, 25, 20, 22, 18, 15, 16, 12, 14, 10, 12, 8, 12, 10, 6, 4, 8, 3, 6, 2, 3, 1, 2, 1, 0, 2, 1, 0, 1, 0, 1, 0, 1, 0, 0, 1, 0, 1, 0, 1]
h_5_0 = [5000, 5000, 1200, 700, 450, 330, 260, 210, 180, 150, 130, 115, 100, 95, 85, 80, 75, 70, 65, 75, 55, 60, 50, 45, 55, 40, 45, 38, 42, 35, 38, 30, 35, 28, 38, 32, 25, 28, 25, 22, 20, 22, 18, 20, 25, 30, 25, 20, 18, 22, 15, 18, 20, 12, 10, 15, 8, 10, 6, 5, 7, 5, 8, 6, 7, 4, 6, 5, 1, 1, 1, 2, 3, 0, 1]
h_6_0 = [5000, 1400, 700, 420, 300, 220, 180, 150, 130, 115, 105, 100, 90, 80, 70, 75, 60, 55, 50, 45, 48, 40, 35, 38, 30, 32, 28, 25, 30, 22, 20, 22, 20, 18, 20, 22, 15, 18, 20, 12, 15, 14, 10, 12, 11, 14, 10, 12, 8, 10, 6, 5, 7, 8, 5, 7, 4, 3, 5, 2, 6, 1, 2, 1, 0, 1, 0, 1, 2, 1, 0, 0, 1, 0, 1, 0, 1]
h_7_0 = [5000, 1100, 510, 285, 207, 126, 128, 94, 84, 74, 59, 59, 51, 46, 43, 43, 33, 25, 28, 30, 24, 23, 18, 22, 23, 15, 17, 13, 7, 12, 5, 11, 7, 6, 4, 5, 3, 6, 4, 2, 4, 4, 4, 1, 0, 2, 2, 0, 3, 1, 2, 2, 0, 0, 0, 1]

# stats box texts, one list per row j, in column order i = 0..7
mean_j7 = ["6.054", "60.76", "8.709", "9.23", "9.007", "8.642", "66.99", "6.14"]
mean_j6 = ["6.6", "8.797", "12.79", "14.99", "15.02", "12.75", "9.156", "8.313"]
mean_j5 = ["6.889", "11.99", "18.99", "24.44", "28.22", "24.55", "14.62", "8.302"]
mean_j4 = ["10.04", "22.14", "41.05", "76.23", "73.5", "45.81", "23.55", "10.1"]
mean_j3 = ["9.355", "24.09", "53.68", "73.43", "78.18", "58.29", "25.3", "10.75"]
mean_j2 = ["7.822", "16.18", "35.24", "46.89", "53.25", "34.63", "17.54", "8.705"]
mean_j1 = ["6.418", "10", "12.17", "17.29", "17.44", "17.78", "9.731", "6.781"]
mean_j0 = ["5.893", "6.206", "7.684", "8.726", "9.437", "7.595", "7.013", "5.839"]

std_j7 = ["15.11", "108.7", "31.17", "32.79", "30.42", "30.8", "124.1", "14.92"]
std_j6 = ["17.87", "30.18", "45.98", "52.09", "53.35", "47.36", "32.79", "30.65"]
std_j5 = ["18.1", "41.18", "60.65", "71.76", "79.03", "80.69", "51.58", "29.43"]
std_j4 = ["35.6", "75.67", "96.74", "147.7", "139.4", "108.6", "72.67", "34.09"]
std_j3 = ["29.59", "78.37", "120.1", "142.8", "143.1", "135.1", "74.84", "36.51"]
std_j2 = ["26.1", "58.24", "102", "108", "132.2", "101.5", "60.4", "29.6"]
std_j1 = ["17", "38.03", "42.24", "60.97", "56.92", "68.43", "34.59", "19.42"]
std_j0 = ["13.92", "15.37", "25.76", "30.47", "35.32", "25.97", "21.23", "11.65"]

entries = "674158"

# pads whose log axis starts at 1 instead of 0.5
y_from_one = [(1, 6), (5, 6), (4, 2)]

means = [mean_j0, mean_j1, mean_j2, mean_j3, mean_j4, mean_j5, mean_j6, mean_j7]
stds = [std_j0, std_j1, std_j2, std_j3, std_j4, std_j5, std_j6, std_j7]
hists = {}
for i in range(8):
    for j in range(8):
        hists[(i, j)] = globals()[f"h_{i}_{j}"]

# ---- drawing ----
W = 3000.0
PAD = 375.0
BLUE = '#0000aa'
edges = np.linspace(0, 1000, 101)

fig = plt.figure(figsize=(30, 30), dpi=100)


def fx(px):
    return px / W


def fy(py):
    return 1 - py / W


for j in range(8):
    r = 7 - j
    for i in range(8):
        ox, oy = i * PAD, r * PAD
        counts = np.zeros(100)
        vals = hists[(i, j)][:100]
        counts[:len(vals)] = vals

        if (i, j) in y_from_one:
            ymin, ymax = 1.0, 1720.0
        else:
            ymin, ymax = 0.5, 1700.0

        ax = fig.add_axes([fx(ox + 61.5), fy(oy + 313.3), 252 / W, 252 / W])
        ax.set_yscale('log')
        # overflowing bins sit on the frame top, empty bins drop below the frame
        shown = np.where(counts > 0, np.minimum(counts, ymax), 1e-4)
        ax.stairs(shown, edges, baseline=None, color=BLUE, linewidth=0.95)
        ax.set_xlim(0, 1000)
        ax.set_ylim(ymin, ymax)

        ax.xaxis.set_major_locator(FixedLocator(list(range(0, 1001, 100))))
        ax.xaxis.set_minor_locator(FixedLocator(list(range(0, 1001, 20))))
        ax.yaxis.set_major_locator(FixedLocator([1, 10, 100, 1000]))
        ax.yaxis.set_major_formatter(FixedFormatter(['1', '10', r'$10^{2}$', r'$10^{3}$']))
        minors = [k * 10.0 ** d for d in range(-1, 4) for k in range(2, 10)]
        ax.yaxis.set_minor_locator(FixedLocator(minors))
        ax.yaxis.set_minor_formatter(NullFormatter())

        ax.tick_params(which='both', direction='in', top=False, right=False,
                       colors='black', width=0.72)
        ax.tick_params(which='major', length=6.2, labelsize=6.8)
        ax.tick_params(which='minor', length=3.1)
        ax.tick_params(axis='x', pad=2.5)
        ax.tick_params(axis='y', pad=1.5)
        for s in ax.spines.values():
            s.set_linewidth(0.72)

        # pad title
        fig.text(fx(ox + 187.5), fy(oy + 40), f'bar ({i},{j})',
                 ha='center', va='center', fontsize=10.7, zorder=11)

        # stats box
        bx0, by0, bx1, by1 = ox + 275.3, oy + 50.3, ox + 338.3, oy + 100.0
        fig.add_artist(Rectangle((fx(bx0), fy(by1)), (bx1 - bx0) / W, (by1 - by0) / W,
                                 transform=fig.transFigure, facecolor='white',
                                 edgecolor='black', linewidth=0.72, zorder=10))
        fig.add_artist(Line2D([fx(bx0), fx(bx1)], [fy(oy + 63.3), fy(oy + 63.3)],
                              transform=fig.transFigure, color='black',
                              linewidth=0.72, zorder=10))
        fig.text(fx((bx0 + bx1) / 2), fy(oy + 57.0), f'bar ({i},{j})',
                 ha='center', va='center', fontsize=7.8, zorder=11)
        rows = [("Entries", entries), ("Mean", means[j][i]), ("Std Dev", stds[j][i])]
        for (lab, val), yy in zip(rows, [69.7, 81.7, 94.7]):
            fig.text(fx(ox + 278.3), fy(oy + yy), lab, ha='left', va='center',
                     fontsize=5.0, zorder=11)
            fig.text(fx(ox + 335.3), fy(oy + yy), val, ha='right', va='center',
                     fontsize=5.0, zorder=11)

fig.savefig('out.png', dpi=100)
